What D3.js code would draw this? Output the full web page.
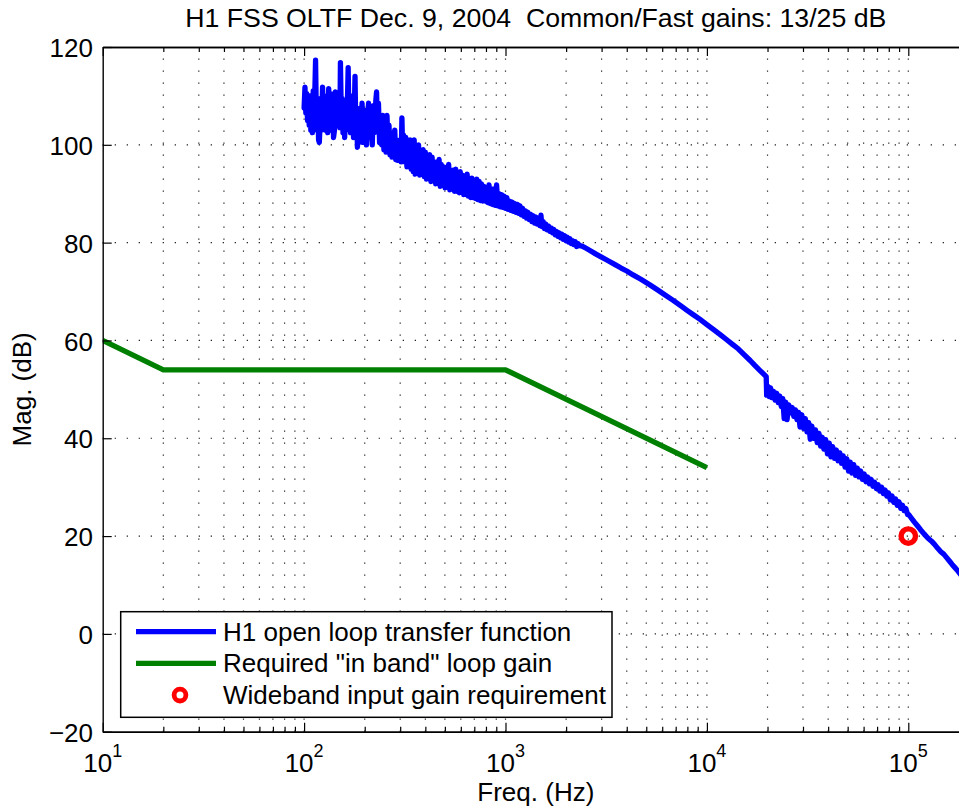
<!DOCTYPE html>
<html>
<head>
<meta charset="utf-8">
<script src="https://cdn.jsdelivr.net/npm/d3@7"></script>
<style>
  html, body { margin: 0; padding: 0; background: #fff; overflow: hidden; }
  svg { display: block; }
  text { font-family: "Liberation Sans", Arial, Helvetica, sans-serif; fill: #000; }
</style>
</head>
<body>
<svg id="chart" width="959" height="812"></svg>
<script>
// ---- Measured open loop transfer function, [frequency Hz, magnitude dB] ----
// 100 Hz – 1 kHz: noisy low-frequency part of the sweep
const oltfLowBand = [
  [100,107.5],[101,111.8],[102,106.5],[103,110.5],[104,105],[105,109],[106,104],[107,110],
  [108,103],[109,108],[110,102.5],[111,111],[112,104],[113,110.5],[114,117.3],[115,106],
  [116,103],[117,108],[118,101],[119,100.5],[120,104],[121,109.5],[122,103],[123.5,111.8],
  [125,104.5],[126.5,110],[128,103],[129.5,109],[131,102.5],[132.5,111.5],[134,104],[135.5,110.5],
  [137,103],[138.5,109],[140,101.5],[141.5,103],[143,110.8],[144.5,105],[146,109],[147.5,104],
  [149,110],[150.5,103.5],[151.5,116.8],[153,106],[154.5,109.5],[156,102.5],[157.5,108.5],[159,101.5],
  [160.5,107],[162,103],[164,108.5],[165.5,115.8],[167,105],[168.5,109.5],[170,102.5],[171.5,108.5],
  [173,103],[174.5,110],[176,101.5],[177.5,107],[179,114],[180.5,104],[182,107.5],[184,99.5],
  [186,104],[188,100.5],[190,107.5],[192,101],[194,108.5],[196,100.5],[198,106],[200,101.5],
  [202,107],[204,100],[206,105],[209,108.5],[212,101.5],[215,106.5],[218,100],[221,108],
  [224,102.5],[227,109],[229,110.8],[231,104],[234,108.5],[237,100.5],[240,105],[243,100],
  [246,106],[249,99],[252,104.5],[255,98.5],[258,106],[261,99.5],[264,104],[267,98],
  [270,102.5],[273,97.5],[276,101.5],[279,98],[282,103],[285,97],[288,101],[291,96.8],
  [294,100.5],[297,97.5],[300,101],[303,96.5],[306,105.5],[309,97.5],[312,102],[316,96.5],
  [320,101.5],[324,95.5],[328,100.5],[332,95.5],[336,101],[340,95],[344,100],[348,94.5],
  [352,101],[356,94],[360,99],[365,94.5],[370,100],[375,93.8],[380,98.5],[385,94],
  [390,99],[395,93.5],[400,98.5],[405,93],[410,97.5],[415,93.5],[420,98],[426,92.5],
  [432,97.5],[438,93],[444,96.5],[450,92],[456,96.5],[462,92.5],[468,97],[474,91.5],
  [480,96],[487,92.5],[494,95.5],[501,91.2],[508,95],[515,91.5],[522,96],[529,90.8],
  [536,94.5],[543,91],[550,94.8],[558,90.5],[566,95],[574,90.5],[582,94.2],[590,90.2],
  [596,94.5],[604,90.3],[612,93.8],[620,89.8],[628,93.5],[636,89.8],[645,94],[654,89.5],
  [663,93],[672,89.2],[681,93.2],[690,89.2],[700,92.5],[710,89],[720,93],[730,88.8],
  [740,92.5],[750,88.6],[760,92],[771,88.5],[782,91.5],[793,88.5],[804,91.2],[816,88.2],
  [828,91.8],[840,88],[852,91],[864,87.8],[877,91],[890,87.6],[903,91.8],[916,87.5],
  [929,90],[942,87.3],[956,89.8],[970,87.2],[984,89.5],[1000,87]
];
// 1 kHz – 20 kHz: the response settles into a smooth roll-off
const oltfMidBand = [
  [1015,89.2],[1030,86.8],[1046,88.5],[1062,86.6],[1078,88.3],[1094,86.4],[1111,88],[1128,86.2],
  [1145,87.8],[1162,86],[1180,87.5],[1198,85.7],[1216,87],[1235,85.4],[1254,86.5],[1273,85],
  [1292,86.2],[1312,84.7],[1332,85.8],[1352,84.3],[1373,85.5],[1394,84],[1415,85.2],[1437,83.8],
  [1459,85],[1481,83.5],[1500,85.6],[1515,83.3],[1538,84.3],[1561,82.9],[1585,83.8],[1610,82.6],
  [1635,83.4],[1660,82.3],[1686,83],[1712,82],[1738,82.7],[1765,81.6],[1792,82.3],[1820,81.3],
  [1848,82],[1877,81],[1906,81.7],[1935,80.7],[1965,81.4],[1995,80.4],[2026,81.1],[2057,80.1],
  [2089,80.8],[2121,79.8],[2154,80.4],[2187,79.6],[2221,80.2],[2255,79.2],[2290,79.8],[2330,79.4],
  [2400,79.3],[2500,78.9],[2650,78.3],[2800,77.7],[2950,77.2],[3200,76.4],[3500,75.5],[3750,74.8],
  [4000,74.2],[4300,73.4],[4700,72.5],[5200,71.4],[5700,70.3],[6200,69.3],[6800,68.2],[7400,67.1],
  [8000,66.1],[8600,65.2],[9250,64.3],[10000,63.25],[10800,62.2],[11600,61.25],[12500,60.2],[13400,59.2],
  [14300,58.3],[15300,57.1],[16400,55.9],[17300,54.9],[18300,53.9],[19200,53.05],[19700,52.6]
];
// 20 kHz – 200 kHz: second sweep segment, noisy up to 100 kHz
const oltfHighBand = [
  [19750,50.8],[19800,48.8],[20100,50.6],[20400,48.5],[20700,50.3],[21000,48.3],[21400,49.6],[21800,47.8],
  [22200,49.2],[22600,47.3],[23000,48.6],[23400,46.5],[23800,48.1],[24200,44],[24600,47.4],[25000,43.8],
  [25500,46.8],[26000,45.2],[26500,46.3],[27000,44.5],[27500,45.8],[28000,43.8],[28500,45.3],[29000,42.3],
  [29600,44.8],[30200,42],[30800,44],[31400,41.3],[32000,43.2],[32600,39.8],[33200,42.5],[33900,40],
  [34600,41.7],[35300,39.1],[36000,41],[36700,38.4],[37400,40.2],[38100,37.8],[38900,39.7],[39700,36.8],
  [40500,39],[41300,36.2],[42100,38.3],[43000,35.9],[43900,37.6],[44800,35.4],[45700,37],[46600,34.9],
  [47500,36.4],[48500,34.1],[49500,35.8],[50500,33.3],[51500,35.1],[52500,32.9],[53600,34.6],[54700,32.4],
  [55800,33.9],[56900,32.1],[58000,33.3],[59200,31.6],[60400,32.7],[61600,31.1],[62800,32.1],[64100,30.7],
  [65400,31.6],[66700,30.2],[68000,31],[69400,29.7],[70800,30.5],[72200,29.2],[73700,30],[75200,28.7],
  [76700,29.4],[78200,28.2],[79800,28.8],[81400,27.4],[83000,28.2],[84700,26.9],[86400,27.6],[88100,26.3],
  [89900,27],[91700,25.7],[93500,26.3],[95400,25.2],[97300,25.6],[99200,24.4],[100500,24.4],
  [103000,23.8],[107000,22.9],[111000,22.1],[115000,21.3],[120000,20.4],[125000,19.6],[130000,19],
  [135000,18.3],[140000,17.5],[145000,16.8],[150000,16.3],[155000,15.6],[160000,14.9],[165000,14.2],
  [170000,13.6],[176000,12.9],[183000,12],[190000,11.2],[200000,10.2]
];

// ---- Required "in band" loop gain (break points) ----
const reqFreq = [10, 20, 1000, 10000];
const reqMag  = [60, 54, 54, 34];

// ---- Wideband input gain requirement ----
const wbFreq = [1e5];
const wbMag  = [20];

// ---- Axes ----
const xLimits = [10, 2e5];
const yLimits = [-20, 120];
const yTicks = [-20, 0, 20, 40, 60, 80, 100, 120];
const xDecadeExponents = [1, 2, 3, 4, 5];

const titleText = "H1 FSS OLTF Dec. 9, 2004  Common/Fast gains: 13/25 dB";
const xLabelText = "Freq. (Hz)";
const yLabelText = "Mag. (dB)";
const legendLabels = [
  "H1 open loop transfer function",
  "Required \"in band\" loop gain",
  "Wideband input gain requirement"
];

const BLUE = "#0000ff", GREEN = "#008000", RED = "#ff0000";
const LW = 5.3;

// ---- Layout ----
const box = { left: 102.7, top: 47, bottom: 731.7 };
box.right = box.left + Math.log10(xLimits[1] / xLimits[0]) * 201.4;

const svg = d3.select("#chart");
const x = d3.scaleLog().domain(xLimits).range([box.left, box.right]);
const y = d3.scaleLinear().domain(yLimits).range([box.bottom, box.top]);

const allXTicks = x.ticks().filter(t => t >= xLimits[0] && t <= xLimits[1]);
const majorX = xDecadeExponents.map(e => Math.pow(10, e));
const minorX = allXTicks.filter(t => !majorX.some(m => Math.abs(m - t) / m < 1e-9));

// ---- Grid (dotted) ----
const grid = svg.append("g").attr("stroke", "#222").attr("stroke-width", 1.2)
  .attr("stroke-dasharray", "1.3,10.7").attr("fill", "none");
allXTicks.filter(t => t > xLimits[0]).forEach(t => {
  grid.append("line").attr("x1", x(t)).attr("x2", x(t))
    .attr("y1", box.bottom).attr("y2", box.top);
});
yTicks.filter(t => t > yLimits[0] && t < yLimits[1]).forEach(t => {
  grid.append("line").attr("x1", box.left).attr("x2", box.right)
    .attr("y1", y(t)).attr("y2", y(t));
});

// ---- Data lines ----
svg.append("clipPath").attr("id", "plotClip").append("rect")
  .attr("x", box.left).attr("y", box.top)
  .attr("width", box.right - box.left).attr("height", box.bottom - box.top);

const line = d3.line().x(d => x(d[0])).y(d => y(d[1]));
const plot = svg.append("g").attr("clip-path", "url(#plotClip)");

const oltf = oltfLowBand.concat(oltfMidBand, oltfHighBand);
plot.append("path").datum(oltf).attr("d", line)
  .attr("fill", "none").attr("stroke", BLUE).attr("stroke-width", LW)
  .attr("stroke-linejoin", "round").attr("stroke-linecap", "round");

const req = reqFreq.map((f, i) => [f, reqMag[i]]);
plot.append("path").datum(req).attr("d", line)
  .attr("fill", "none").attr("stroke", GREEN).attr("stroke-width", LW)
  .attr("stroke-linejoin", "miter");

plot.selectAll("circle.wb").data(wbFreq.map((f, i) => [f, wbMag[i]])).enter()
  .append("circle").attr("class", "wb")
  .attr("cx", d => x(d[0])).attr("cy", d => y(d[1])).attr("r", 7.2)
  .attr("fill", "none").attr("stroke", RED).attr("stroke-width", 5.4);

// ---- Axes (ticks pointing inward) ----
function styleAxis(g) {
  g.selectAll("path.domain").attr("stroke", "#000").attr("stroke-width", 1.4);
  g.selectAll(".tick line").attr("stroke", "#000").attr("stroke-width", 1.2);
  g.selectAll(".tick text").remove();
}
svg.append("g").attr("transform", `translate(0,${box.bottom})`)
  .call(d3.axisBottom(x).tickValues(minorX).tickSizeInner(-5).tickSizeOuter(0).tickFormat(""))
  .call(styleAxis);
svg.append("g").attr("transform", `translate(0,${box.bottom})`)
  .call(d3.axisBottom(x).tickValues(majorX).tickSizeInner(-9).tickSizeOuter(0).tickFormat(""))
  .call(styleAxis);
svg.append("g").attr("transform", `translate(0,${box.top})`)
  .call(d3.axisTop(x).tickValues(minorX).tickSizeInner(-5).tickSizeOuter(0).tickFormat(""))
  .call(styleAxis);
svg.append("g").attr("transform", `translate(0,${box.top})`)
  .call(d3.axisTop(x).tickValues(majorX).tickSizeInner(-9).tickSizeOuter(0).tickFormat(""))
  .call(styleAxis);
svg.append("g").attr("transform", `translate(${box.left},0)`)
  .call(d3.axisLeft(y).tickValues(yTicks).tickSizeInner(-9).tickSizeOuter(0).tickFormat(""))
  .call(styleAxis);

// ---- Tick labels ----
const FS = 26;
svg.append("g").selectAll("text").data(yTicks).enter().append("text")
  .attr("x", 93).attr("y", d => y(d)).attr("dy", "0.39em")
  .attr("text-anchor", "end").attr("font-size", FS)
  .text(d => d < 0 ? "\u2212" + Math.abs(d) : String(d));

const xl = svg.append("g").selectAll("text").data(xDecadeExponents).enter().append("text")
  .attr("x", e => x(Math.pow(10, e))).attr("y", 771.5)
  .attr("text-anchor", "middle").attr("font-size", FS);
xl.append("tspan").text("10");
xl.append("tspan").attr("font-size", 18).attr("dy", -14.5).text(e => String(e));

// ---- Title and axis labels ----
const cx = (box.left + box.right) / 2;
svg.append("text").attr("x", cx).attr("y", 26.5).attr("text-anchor", "middle")
  .attr("font-size", 26.7).style("white-space", "pre").text(titleText);
svg.append("text").attr("x", cx).attr("y", 801).attr("text-anchor", "middle")
  .attr("font-size", FS).text(xLabelText);
svg.append("text").attr("transform", `translate(31,${(box.top + box.bottom) / 2}) rotate(-90)`)
  .attr("text-anchor", "middle").attr("font-size", FS).text(yLabelText);

// ---- Legend ----
const lg = svg.append("g");
lg.append("rect").attr("x", 120.7).attr("y", 611.7).attr("width", 491.3).attr("height", 105.6)
  .attr("fill", "#fff").attr("stroke", "#000").attr("stroke-width", 1.5);
const rowY = [631.7, 663.4, 695.1];
lg.append("line").attr("x1", 136).attr("x2", 216).attr("y1", rowY[0]).attr("y2", rowY[0])
  .attr("stroke", BLUE).attr("stroke-width", LW);
lg.append("line").attr("x1", 136).attr("x2", 216).attr("y1", rowY[1]).attr("y2", rowY[1])
  .attr("stroke", GREEN).attr("stroke-width", LW);
lg.append("circle").attr("cx", 180).attr("cy", rowY[2]).attr("r", 5.9)
  .attr("fill", "none").attr("stroke", RED).attr("stroke-width", 4.8);
lg.selectAll("text.lbl").data(legendLabels).enter().append("text").attr("class", "lbl")
  .attr("x", 223).attr("y", (d, i) => rowY[i] + 9).attr("font-size", FS).text(d => d);
</script>
</body>
</html>
